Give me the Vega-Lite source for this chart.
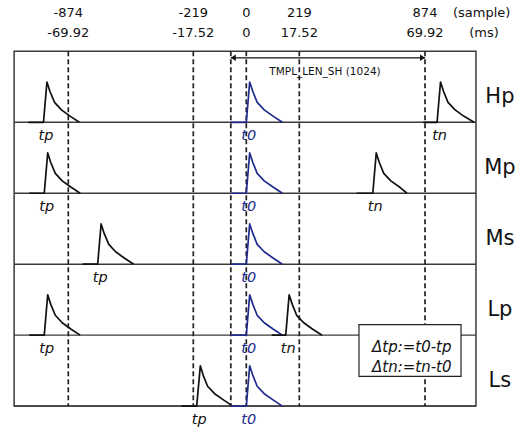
{
  "$schema": "https://vega.github.io/schema/vega-lite/v6.json",
  "width": 521,
  "height": 427,
  "padding": 0,
  "autosize": {"type": "fit", "contains": "padding"},
  "background": "white",
  "config": {"view": {"stroke": null}, "text": {"font": "DejaVu Sans"}},
  "datasets": {
    "pulses": [
      {"p": "Hp-tp", "c": "ref", "x": -1083, "y": 4}, {"p": "Hp-tp", "c": "ref", "x": -1004, "y": 4}, {"p": "Hp-tp", "c": "ref", "x": -986, "y": 4.568}, {"p": "Hp-tp", "c": "ref", "x": -970, "y": 4.434}, {"p": "Hp-tp", "c": "ref", "x": -946, "y": 4.28}, {"p": "Hp-tp", "c": "ref", "x": -910, "y": 4.175}, {"p": "Hp-tp", "c": "ref", "x": -863, "y": 4.084}, {"p": "Hp-tp", "c": "ref", "x": -816, "y": 4},
      {"p": "Hp-t0", "c": "t0", "x": -64, "y": 4}, {"p": "Hp-t0", "c": "t0", "x": 0, "y": 4}, {"p": "Hp-t0", "c": "t0", "x": 14, "y": 4.568}, {"p": "Hp-t0", "c": "t0", "x": 27, "y": 4.434}, {"p": "Hp-t0", "c": "t0", "x": 45, "y": 4.28}, {"p": "Hp-t0", "c": "t0", "x": 74, "y": 4.175}, {"p": "Hp-t0", "c": "t0", "x": 112, "y": 4.084}, {"p": "Hp-t0", "c": "t0", "x": 149, "y": 4},
      {"p": "Hp-tn", "c": "ref", "x": 865, "y": 4}, {"p": "Hp-tn", "c": "ref", "x": 937, "y": 4}, {"p": "Hp-tn", "c": "ref", "x": 955, "y": 4.568}, {"p": "Hp-tn", "c": "ref", "x": 971, "y": 4.434}, {"p": "Hp-tn", "c": "ref", "x": 994, "y": 4.28}, {"p": "Hp-tn", "c": "ref", "x": 1031, "y": 4.175}, {"p": "Hp-tn", "c": "ref", "x": 1078, "y": 4.084}, {"p": "Hp-tn", "c": "ref", "x": 1130, "y": 4},
      {"p": "Mp-tp", "c": "ref", "x": -1079, "y": 3}, {"p": "Mp-tp", "c": "ref", "x": -1000, "y": 3}, {"p": "Mp-tp", "c": "ref", "x": -982, "y": 3.568}, {"p": "Mp-tp", "c": "ref", "x": -966, "y": 3.434}, {"p": "Mp-tp", "c": "ref", "x": -942, "y": 3.28}, {"p": "Mp-tp", "c": "ref", "x": -906, "y": 3.175}, {"p": "Mp-tp", "c": "ref", "x": -859, "y": 3.084}, {"p": "Mp-tp", "c": "ref", "x": -812, "y": 3},
      {"p": "Mp-t0", "c": "t0", "x": -64, "y": 3}, {"p": "Mp-t0", "c": "t0", "x": 0, "y": 3}, {"p": "Mp-t0", "c": "t0", "x": 14, "y": 3.568}, {"p": "Mp-t0", "c": "t0", "x": 27, "y": 3.434}, {"p": "Mp-t0", "c": "t0", "x": 45, "y": 3.28}, {"p": "Mp-t0", "c": "t0", "x": 74, "y": 3.175}, {"p": "Mp-t0", "c": "t0", "x": 112, "y": 3.084}, {"p": "Mp-t0", "c": "t0", "x": 149, "y": 3},
      {"p": "Mp-tn", "c": "ref", "x": 518, "y": 3}, {"p": "Mp-tn", "c": "ref", "x": 602, "y": 3}, {"p": "Mp-tn", "c": "ref", "x": 620, "y": 3.568}, {"p": "Mp-tn", "c": "ref", "x": 636, "y": 3.434}, {"p": "Mp-tn", "c": "ref", "x": 659, "y": 3.28}, {"p": "Mp-tn", "c": "ref", "x": 696, "y": 3.175}, {"p": "Mp-tn", "c": "ref", "x": 743, "y": 3.084}, {"p": "Mp-tn", "c": "ref", "x": 780, "y": 3},
      {"p": "Ms-tp", "c": "ref", "x": -799, "y": 2}, {"p": "Ms-tp", "c": "ref", "x": -720, "y": 2}, {"p": "Ms-tp", "c": "ref", "x": -702, "y": 2.568}, {"p": "Ms-tp", "c": "ref", "x": -686, "y": 2.434}, {"p": "Ms-tp", "c": "ref", "x": -662, "y": 2.28}, {"p": "Ms-tp", "c": "ref", "x": -626, "y": 2.175}, {"p": "Ms-tp", "c": "ref", "x": -579, "y": 2.084}, {"p": "Ms-tp", "c": "ref", "x": -531, "y": 2},
      {"p": "Ms-t0", "c": "t0", "x": -64, "y": 2}, {"p": "Ms-t0", "c": "t0", "x": 0, "y": 2}, {"p": "Ms-t0", "c": "t0", "x": 14, "y": 2.568}, {"p": "Ms-t0", "c": "t0", "x": 27, "y": 2.434}, {"p": "Ms-t0", "c": "t0", "x": 45, "y": 2.28}, {"p": "Ms-t0", "c": "t0", "x": 74, "y": 2.175}, {"p": "Ms-t0", "c": "t0", "x": 112, "y": 2.084}, {"p": "Ms-t0", "c": "t0", "x": 149, "y": 2},
      {"p": "Lp-tp", "c": "ref", "x": -1079, "y": 1}, {"p": "Lp-tp", "c": "ref", "x": -1000, "y": 1}, {"p": "Lp-tp", "c": "ref", "x": -982, "y": 1.568}, {"p": "Lp-tp", "c": "ref", "x": -966, "y": 1.434}, {"p": "Lp-tp", "c": "ref", "x": -942, "y": 1.28}, {"p": "Lp-tp", "c": "ref", "x": -906, "y": 1.175}, {"p": "Lp-tp", "c": "ref", "x": -859, "y": 1.084}, {"p": "Lp-tp", "c": "ref", "x": -812, "y": 1},
      {"p": "Lp-t0", "c": "t0", "x": -64, "y": 1}, {"p": "Lp-t0", "c": "t0", "x": 0, "y": 1}, {"p": "Lp-t0", "c": "t0", "x": 14, "y": 1.568}, {"p": "Lp-t0", "c": "t0", "x": 27, "y": 1.434}, {"p": "Lp-t0", "c": "t0", "x": 45, "y": 1.28}, {"p": "Lp-t0", "c": "t0", "x": 74, "y": 1.175}, {"p": "Lp-t0", "c": "t0", "x": 112, "y": 1.084}, {"p": "Lp-t0", "c": "t0", "x": 149, "y": 1},
      {"p": "Lp-tn", "c": "ref", "x": 105, "y": 1}, {"p": "Lp-tn", "c": "ref", "x": 163, "y": 1}, {"p": "Lp-tn", "c": "ref", "x": 177, "y": 1.568}, {"p": "Lp-tn", "c": "ref", "x": 190, "y": 1.434}, {"p": "Lp-tn", "c": "ref", "x": 208, "y": 1.28}, {"p": "Lp-tn", "c": "ref", "x": 242, "y": 1.175}, {"p": "Lp-tn", "c": "ref", "x": 289, "y": 1.084}, {"p": "Lp-tn", "c": "ref", "x": 338, "y": 1},
      {"p": "Ls-tp", "c": "ref", "x": -280, "y": 0}, {"p": "Ls-tp", "c": "ref", "x": -205, "y": 0}, {"p": "Ls-tp", "c": "ref", "x": -190, "y": 0.568}, {"p": "Ls-tp", "c": "ref", "x": -178, "y": 0.434}, {"p": "Ls-tp", "c": "ref", "x": -160, "y": 0.28}, {"p": "Ls-tp", "c": "ref", "x": -131, "y": 0.175}, {"p": "Ls-tp", "c": "ref", "x": -93, "y": 0.084}, {"p": "Ls-tp", "c": "ref", "x": -56, "y": 0},
      {"p": "Ls-t0", "c": "t0", "x": -64, "y": 0}, {"p": "Ls-t0", "c": "t0", "x": 0, "y": 0}, {"p": "Ls-t0", "c": "t0", "x": 14, "y": 0.568}, {"p": "Ls-t0", "c": "t0", "x": 27, "y": 0.434}, {"p": "Ls-t0", "c": "t0", "x": 45, "y": 0.28}, {"p": "Ls-t0", "c": "t0", "x": 74, "y": 0.175}, {"p": "Ls-t0", "c": "t0", "x": 112, "y": 0.084}, {"p": "Ls-t0", "c": "t0", "x": 149, "y": 0}
    ],
    "vlines": [{"t": -874}, {"t": -219}, {"t": -64}, {"t": 0}, {"t": 219}, {"t": 874}],
    "ticks": [
      {"t": -874, "sample": "-874", "ms": "-69.92"},
      {"t": -219, "sample": "-219", "ms": "-17.52"},
      {"t": 0, "sample": "0", "ms": "0"},
      {"t": 219, "sample": "219", "ms": "17.52"},
      {"t": 874, "sample": "874", "ms": "69.92"}
    ],
    "units": [{"label": "(sample)"}, {"label": "(ms)"}],
    "rows": [{"row": "Hp", "k": 4}, {"row": "Mp", "k": 3}, {"row": "Ms", "k": 2}, {"row": "Lp", "k": 1}, {"row": "Ls", "k": 0}],
    "labels": [
      {"row": "Hp", "k": 4, "lab": "tp", "t": -1004, "c": "ref"}, {"row": "Hp", "k": 4, "lab": "t0", "t": 0, "c": "t0"}, {"row": "Hp", "k": 4, "lab": "tn", "t": 937, "c": "ref"},
      {"row": "Mp", "k": 3, "lab": "tp", "t": -1000, "c": "ref"}, {"row": "Mp", "k": 3, "lab": "t0", "t": 0, "c": "t0"}, {"row": "Mp", "k": 3, "lab": "tn", "t": 602, "c": "ref"},
      {"row": "Ms", "k": 2, "lab": "tp", "t": -720, "c": "ref"}, {"row": "Ms", "k": 2, "lab": "t0", "t": 0, "c": "t0"},
      {"row": "Lp", "k": 1, "lab": "tp", "t": -1000, "c": "ref"}, {"row": "Lp", "k": 1, "lab": "t0", "t": 0, "c": "t0"}, {"row": "Lp", "k": 1, "lab": "tn", "t": 163, "c": "ref"},
      {"row": "Ls", "k": 0, "lab": "tp", "t": -205, "c": "ref"}, {"row": "Ls", "k": 0, "lab": "t0", "t": 0, "c": "t0"}
    ],
    "template": [{"from": -64, "to": 874, "label": "TMPL_LEN_SH (1024)"}],
    "notes": [{"note": "Δtp:=t0-tp\nΔtn:=tn-t0"}]
  },
  "layer": [
    {
      "data": {"name": "rows"},
      "mark": {"type": "rule", "color": "#3a3a3a", "strokeWidth": 1.4},
      "encoding": {
        "x": {"datum": -1158, "type": "quantitative", "scale": {"domain": [-1232, -874, -219, 219, 874, 1375], "range": [0, 68.3, 193.3, 299.3, 425, 521], "nice": false, "zero": false}, "axis": null},
        "x2": {"datum": 1140},
        "y": {"field": "k", "type": "quantitative", "scale": {"domain": [-0.252, 5.7235], "nice": false, "zero": false}, "axis": null}
      }
    },
    {
      "data": {"name": "template"},
      "mark": {"type": "rect", "filled": false, "stroke": "#3a3a3a", "strokeWidth": 1.5},
      "encoding": {
        "x": {"datum": -1158, "type": "quantitative"},
        "x2": {"datum": 1140},
        "y": {"datum": 0, "type": "quantitative"},
        "y2": {"datum": 5}
      }
    },
    {
      "data": {"name": "vlines"},
      "mark": {"type": "rule", "color": "#222222", "strokeWidth": 1.7, "strokeDash": [5, 3]},
      "encoding": {
        "x": {"field": "t", "type": "quantitative"},
        "y": {"datum": 5, "type": "quantitative"},
        "y2": {"datum": 0}
      }
    },
    {
      "data": {"name": "pulses"},
      "mark": {"type": "line", "strokeWidth": 1.7, "strokeJoin": "round"},
      "encoding": {
        "x": {"field": "x", "type": "quantitative"},
        "y": {"field": "y", "type": "quantitative"},
        "detail": {"field": "p"},
        "color": {"field": "c", "type": "nominal", "scale": {"domain": ["ref", "t0"], "range": ["#111111", "#202a8c"]}, "legend": null}
      }
    },
    {
      "data": {"name": "template"},
      "mark": {"type": "rule", "color": "#111111", "strokeWidth": 1.3},
      "encoding": {
        "x": {"field": "from", "type": "quantitative"},
        "x2": {"field": "to"},
        "y": {"datum": 4.908, "type": "quantitative"}
      }
    },
    {
      "data": {"name": "template"},
      "mark": {"type": "point", "shape": "M0,0L2,-1.3L2,1.3Z", "filled": true, "size": 25, "color": "#111111", "opacity": 1, "strokeWidth": 0},
      "encoding": {
        "x": {"field": "from", "type": "quantitative"},
        "y": {"datum": 4.908, "type": "quantitative"}
      }
    },
    {
      "data": {"name": "template"},
      "mark": {"type": "point", "shape": "M0,0L-2,-1.3L-2,1.3Z", "filled": true, "size": 25, "color": "#111111", "opacity": 1, "strokeWidth": 0},
      "encoding": {
        "x": {"field": "to", "type": "quantitative"},
        "y": {"datum": 4.908, "type": "quantitative"}
      }
    },
    {
      "data": {"name": "template"},
      "mark": {"type": "text", "fontSize": 10.5, "align": "center", "baseline": "alphabetic", "color": "#111111"},
      "encoding": {
        "x": {"datum": 353, "type": "quantitative"},
        "y": {"datum": 4.66, "type": "quantitative"},
        "text": {"field": "label"}
      }
    },
    {
      "data": {"name": "ticks"},
      "mark": {"type": "text", "fontSize": 13, "align": "center", "baseline": "alphabetic", "color": "#111111"},
      "encoding": {
        "x": {"field": "t", "type": "quantitative"},
        "y": {"datum": 5.49, "type": "quantitative"},
        "text": {"field": "sample"}
      }
    },
    {
      "data": {"name": "ticks"},
      "mark": {"type": "text", "fontSize": 13, "align": "center", "baseline": "alphabetic", "color": "#111111"},
      "encoding": {
        "x": {"field": "t", "type": "quantitative"},
        "y": {"datum": 5.2, "type": "quantitative"},
        "text": {"field": "ms"}
      }
    },
    {
      "data": {"name": "units"},
      "transform": [{"filter": "datum.label == '(sample)'"}],
      "mark": {"type": "text", "fontSize": 13, "align": "center", "baseline": "alphabetic", "color": "#111111"},
      "encoding": {
        "x": {"datum": 1170, "type": "quantitative"},
        "y": {"datum": 5.49, "type": "quantitative"},
        "text": {"field": "label"}
      }
    },
    {
      "data": {"name": "units"},
      "transform": [{"filter": "datum.label == '(ms)'"}],
      "mark": {"type": "text", "fontSize": 13, "align": "center", "baseline": "alphabetic", "color": "#111111"},
      "encoding": {
        "x": {"datum": 1182, "type": "quantitative"},
        "y": {"datum": 5.2, "type": "quantitative"},
        "text": {"field": "label"}
      }
    },
    {
      "data": {"name": "rows"},
      "mark": {"type": "text", "fontSize": 21, "align": "center", "baseline": "alphabetic", "dy": -19, "color": "#111111"},
      "encoding": {
        "x": {"datum": 1265, "type": "quantitative"},
        "y": {"field": "k", "type": "quantitative"},
        "text": {"field": "row"}
      }
    },
    {
      "data": {"name": "labels"},
      "mark": {"type": "text", "fontSize": 14.5, "fontStyle": "italic", "align": "center", "baseline": "alphabetic", "dx": 2.5, "dy": 18},
      "encoding": {
        "x": {"field": "t", "type": "quantitative"},
        "y": {"field": "k", "type": "quantitative"},
        "text": {"field": "lab"},
        "color": {"field": "c", "type": "nominal", "legend": null}
      }
    },
    {
      "data": {"name": "notes"},
      "mark": {"type": "rect", "fill": "white", "stroke": "#222222", "strokeWidth": 1.2},
      "encoding": {
        "x": {"datum": 530, "type": "quantitative"},
        "x2": {"datum": 1062},
        "y": {"datum": 0.42, "type": "quantitative"},
        "y2": {"datum": 1.1475}
      }
    },
    {
      "data": {"name": "notes"},
      "mark": {"type": "text", "fontSize": 15, "fontStyle": "italic", "align": "center", "baseline": "middle", "lineBreak": "\n", "lineHeight": 20, "color": "#111111"},
      "encoding": {
        "x": {"datum": 805, "type": "quantitative"},
        "y": {"datum": 0.84, "type": "quantitative"},
        "text": {"field": "note"}
      }
    }
  ]
}
